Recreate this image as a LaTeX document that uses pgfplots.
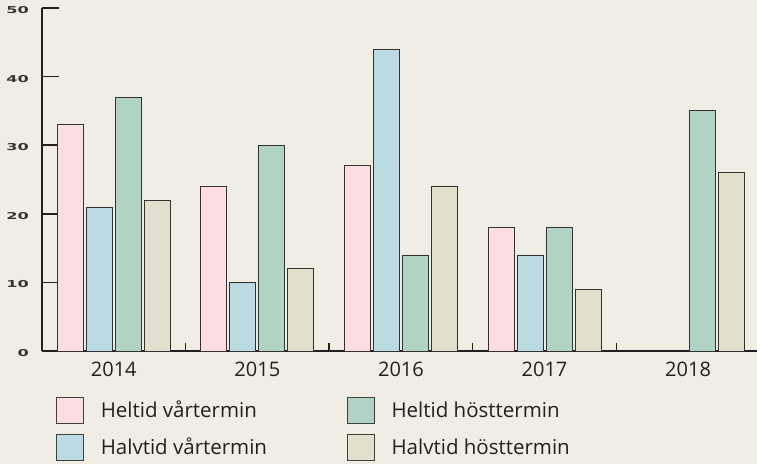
\documentclass[border=0pt]{standalone}
\usepackage{pgfplots}
\pgfplotsset{compat=1.18}
\usepackage{fontspec}
\setmainfont{Open Sans}
\newfontfamily\yfont{DejaVu Sans}[FakeStretch=1.7]
\definecolor{bg}{RGB}{240,237,229}
\definecolor{cpink}{RGB}{252,222,226}
\definecolor{cblue}{RGB}{186,219,228}
\definecolor{cgreen}{RGB}{176,211,197}
\definecolor{cbeige}{RGB}{228,223,205}
\definecolor{txt}{RGB}{35,31,32}
\pgfplotsset{
  mylegend/.style={legend image code/.code={%
      \draw[##1, draw=black!75, line width=0.8bp] (0bp,-13bp) rectangle (27bp,13bp);
      \path (44bp,0bp);}},
}
\begin{document}
\begin{tikzpicture}
\fill[bg,use as bounding box] (-42bp,-113bp) rectangle (715bp,351bp);
\begin{axis}[
  scale only axis, width=715bp, height=343bp,
  xmin=-0.5, xmax=4.48, ymin=0, ymax=50,
  axis lines=left,
  axis line style={-, line width=1.4bp, draw=txt},
  ybar=3bp, bar width=26bp,
  tick align=inside,
  ytick={0,10,...,50},
  major tick length=17bp,
  ytick style={line width=1.4bp, draw=txt},
  xtick={0,1,2,3,4},
  xticklabels={2014,2015,2016,2017,2018},
  xtick style={draw=none},
  minor xtick={0.5,1.5,2.5,3.5},
  minor tick length=8bp,
  minor x tick style={line width=1.4bp, draw=txt},
  /pgf/number format/assume math mode=true,
  yticklabel style={font=\yfont\bfseries\fontsize{9.5bp}{11bp}\selectfont, text=txt!90, anchor=east, inner sep=0pt, xshift=-13bp, yshift=-2bp},
  xticklabel style={font=\fontsize{20bp}{24bp}\selectfont, text=txt, anchor=north, inner sep=0pt, yshift=-11bp},
  legend columns=2, transpose legend,
  legend style={draw=none, fill=none, at={(0.0196,-0.134)}, anchor=north west,
    inner sep=0pt, outer sep=0pt, nodes={inner sep=0pt}, row sep=10bp, column sep=0pt,
    font=\fontsize{20.5bp}{24bp}\selectfont, text=txt},
  legend cell align=left,
]
\addplot[fill=cpink, draw=black!80, line width=0.8bp, mylegend] coordinates {(0,33) (1,24) (2,27) (3,18)};
\addlegendentry{\makebox[246bp][l]{Heltid vårtermin}}
\addplot[fill=cblue, draw=black!80, line width=0.8bp, mylegend] coordinates {(0,21) (1,10) (2,44) (3,14)};
\addlegendentry{\makebox[246bp][l]{Halvtid vårtermin}}
\addplot[fill=cgreen, draw=black!80, line width=0.8bp, mylegend] coordinates {(0,37) (1,30) (2,14) (3,18) (4,35)};
\addlegendentry{Heltid hösttermin}
\addplot[fill=cbeige, draw=black!80, line width=0.8bp, mylegend] coordinates {(0,22) (1,12) (2,24) (3,9) (4,26)};
\addlegendentry{Halvtid hösttermin}
\end{axis}
\end{tikzpicture}
\end{document}
